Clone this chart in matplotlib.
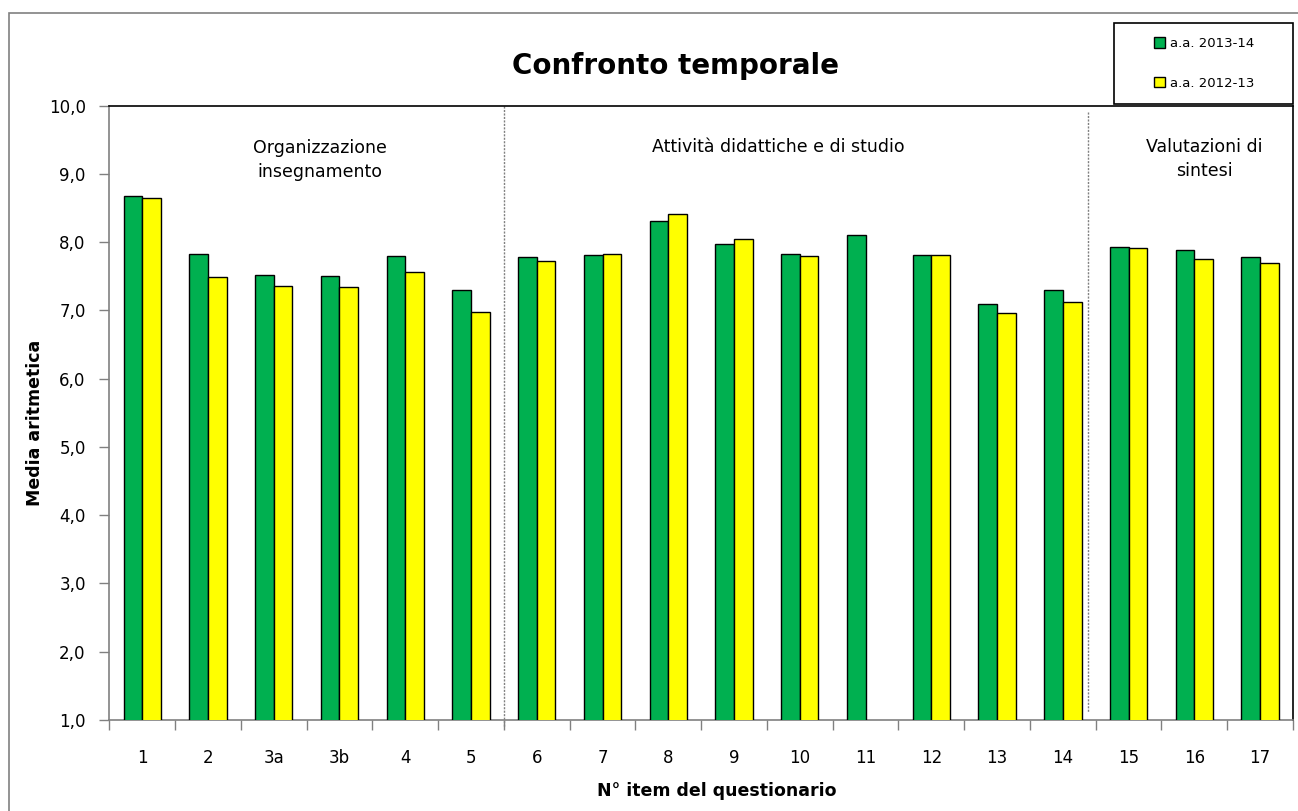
import matplotlib
matplotlib.use("Agg")
import matplotlib.pyplot as plt
from matplotlib.patches import Rectangle, Patch
import numpy as np

plt.rcParams['font.family'] = ['DejaVu Sans']

categories = ['1', '2', '3a', '3b', '4', '5', '6', '7', '8', '9', '10', '11',
              '12', '13', '14', '15', '16', '17']
vals_2013_14 = [8.67, 7.83, 7.52, 7.50, 7.80, 7.30, 7.78, 7.81, 8.31, 7.98,
                7.82, 8.10, 7.81, 7.10, 7.30, 7.93, 7.89, 7.79]
vals_2012_13 = [8.65, 7.49, 7.36, 7.34, 7.57, 6.98, 7.73, 7.83, 8.42, 8.04,
                7.80, np.nan, 7.81, 6.97, 7.12, 7.91, 7.76, 7.69]
series_labels = ['a.a. 2013-14', 'a.a. 2012-13']
group_labels = ['Organizzazione\ninsegnamento', 'Attività didattiche e di studio',
                'Valutazioni di\nsintesi']
title = 'Confronto temporale'
ylabel = 'Media aritmetica'
xlabel = 'N° item del questionario'

GREEN = '#00B050'
YELLOW = '#FFFF00'
GRAY = '#808080'

W, H = 1298, 811
fig = plt.figure(figsize=(W / 100, H / 100), dpi=100)

def fx(px):
    return px / W

def fy(py):
    return 1 - py / H

# outer chart border
fig.patches.append(Rectangle((fx(9), fy(812)), fx(1300 - 9), fy(13) - fy(812),
                             transform=fig.transFigure, fill=False,
                             edgecolor=GRAY, linewidth=1.2, clip_on=False))

ax = fig.add_axes([fx(109.3), fy(720), fx(1293 - 109.3), fy(105.7) - fy(720)])

x = np.arange(len(categories))
bw = 0.284
ax.bar(x - bw / 2, vals_2013_14, bw, color=GREEN, edgecolor='black', linewidth=1.0,
       bottom=0, zorder=3)
ax.bar(x + bw / 2, vals_2012_13, bw, color=YELLOW, edgecolor='black', linewidth=1.0,
       bottom=0, zorder=3)

ax.set_xlim(-0.5, len(categories) - 0.5)
ax.set_ylim(1, 10)
ax.set_yticks(np.arange(1, 11))
ax.set_yticklabels([f"{v:.1f}".replace('.', ',') for v in np.arange(1, 11)],
                   fontsize=12)
ax.set_xticks(x)
ax.set_xticklabels(categories, fontsize=12)
ax.set_xticks(np.arange(-0.5, len(categories)), minor=True)

ax.tick_params(axis='y', which='major', direction='out', length=7, width=1,
               color=GRAY, pad=10)
ax.tick_params(axis='x', which='major', length=0, pad=21)
ax.tick_params(axis='x', which='minor', direction='out', length=7, width=1,
               color=GRAY)

for side in ['left', 'bottom']:
    ax.spines[side].set_color(GRAY)
    ax.spines[side].set_linewidth(1.2)
for side in ['top', 'right']:
    ax.spines[side].set_color('black')
    ax.spines[side].set_linewidth(1.2)

# group separators
ax.plot([5.5, 5.5], [10, 0.90], color=GRAY, linestyle=(0, (1.5, 1.0)),
        linewidth=1.0, clip_on=False, zorder=2)
ax.plot([14.385, 14.385], [9.91, 1.11], color=GRAY, linestyle=(0, (1.5, 1.0)),
        linewidth=1.0, clip_on=False, zorder=2)

# group labels
ax.text(2.70, 9.205, group_labels[0], ha='center', va='center', fontsize=12.5,
        linespacing=1.45)
ax.text(9.68, 9.395, group_labels[1], ha='center', va='center', fontsize=12.5)
ax.text(16.15, 9.22, group_labels[2], ha='center', va='center', fontsize=12.5,
        linespacing=1.45)

# titles
fig.text(fx(675), fy(66), title, ha='center', va='center', fontsize=20,
         fontweight='bold')
fig.text(fx(35), fy(423), ylabel, ha='center', va='center', rotation=90,
         fontsize=12.5, fontweight='bold')
fig.text(fx(717), fy(791), xlabel, ha='center', va='center', fontsize=12.5,
         fontweight='bold')

# legend
fig.patches.append(Rectangle((fx(1114), fy(104)), fx(1293 - 1114), fy(23) - fy(104),
                             transform=fig.transFigure, fill=False,
                             edgecolor='black', linewidth=1.2, facecolor='white'))
handles = [Patch(facecolor=GREEN, edgecolor='black', linewidth=1.0),
           Patch(facecolor=YELLOW, edgecolor='black', linewidth=1.0)]
fig.legend(handles, series_labels, loc='center', bbox_to_anchor=(fx(1204), fy(63.5)),
           frameon=False, fontsize=9.5, handlelength=0.85, handleheight=0.85,
           handletextpad=0.35, labelspacing=2.0, borderpad=0)

fig.savefig('out.png', dpi=100)
